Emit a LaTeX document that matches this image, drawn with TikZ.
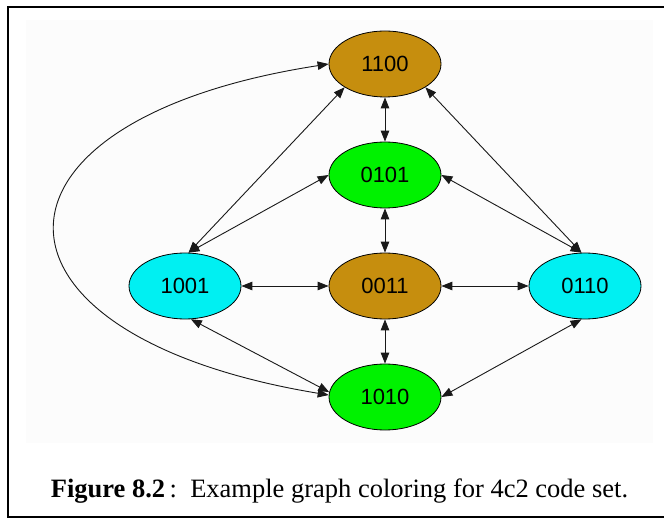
\documentclass[tikz,border=0pt]{standalone}
\usepackage{fontspec}
\setmainfont{Liberation Serif}
\newfontfamily\labelfont{Liberation Sans}
\usetikzlibrary{shapes.geometric,arrows.meta}
\definecolor{ochre}{HTML}{C68E0E}
\definecolor{brightgreen}{HTML}{00F200}
\definecolor{brightcyan}{HTML}{00F0F2}
\definecolor{panel}{HTML}{FCFCFC}
\begin{document}
\begin{tikzpicture}[x=1pt,y=-1pt,
  vertex/.style={ellipse,draw=black,line width=0.8pt,minimum width=112pt,
    minimum height=66pt,inner sep=0pt,
    font=\labelfont\fontsize{22}{22}\selectfont},
  link/.style={{Triangle[length=11pt,width=8.5pt]}-{Triangle[length=11pt,width=8.5pt]},
    line width=0.9pt,draw=black!90}]
\useasboundingbox (0,0) rectangle (664,518);
\fill[white] (0,0) rectangle (664,518);
\fill[panel] (26,20) rectangle (653,443);
% frame (its right side lies past the page edge)
\draw[line width=2pt] (680,7.5) -- (7.5,7.5) -- (7.5,516.5) -- (680,516.5);

% vertices
\node[vertex,fill=ochre]       (a) at (385,64)  {1100};
\node[vertex,fill=brightgreen] (b) at (385,175) {0101};
\node[vertex,fill=ochre]       (c) at (385,286) {0011};
\node[vertex,fill=brightcyan]  (l) at (185,286) {1001};
\node[vertex,fill=brightcyan]  (r) at (585,286) {0110};
\node[vertex,fill=brightgreen] (d) at (385,397) {1010};

% edges
\draw[link] (a.south) -- (b.north);
\draw[link] (b.south) -- (c.north);
\draw[link] (c.south) -- (d.north);
\draw[link] (l.east) -- (c.west);
\draw[link] (c.east) -- (r.west);
\draw[link] (l.84) -- (a.210);
\draw[link] (l.84) -- (b.west);
\draw[link] (r.96) -- (a.330);
\draw[link] (r.96) -- (b.east);
\draw[link] (l.280) -- (d.175);
\draw[link] (r.264) -- (d.east);
\draw[link] (d.178) .. controls (-35,335) and (-35,120) .. (a.west);

% caption
\node[anchor=base,inner sep=0pt] (cap) at (339.5,497)
  {\fontsize{26.5}{26.5}\selectfont\textbf{Figure 8.2}\,:\ \ Example graph coloring for 4c2 code set.};
\end{tikzpicture}
\end{document}
